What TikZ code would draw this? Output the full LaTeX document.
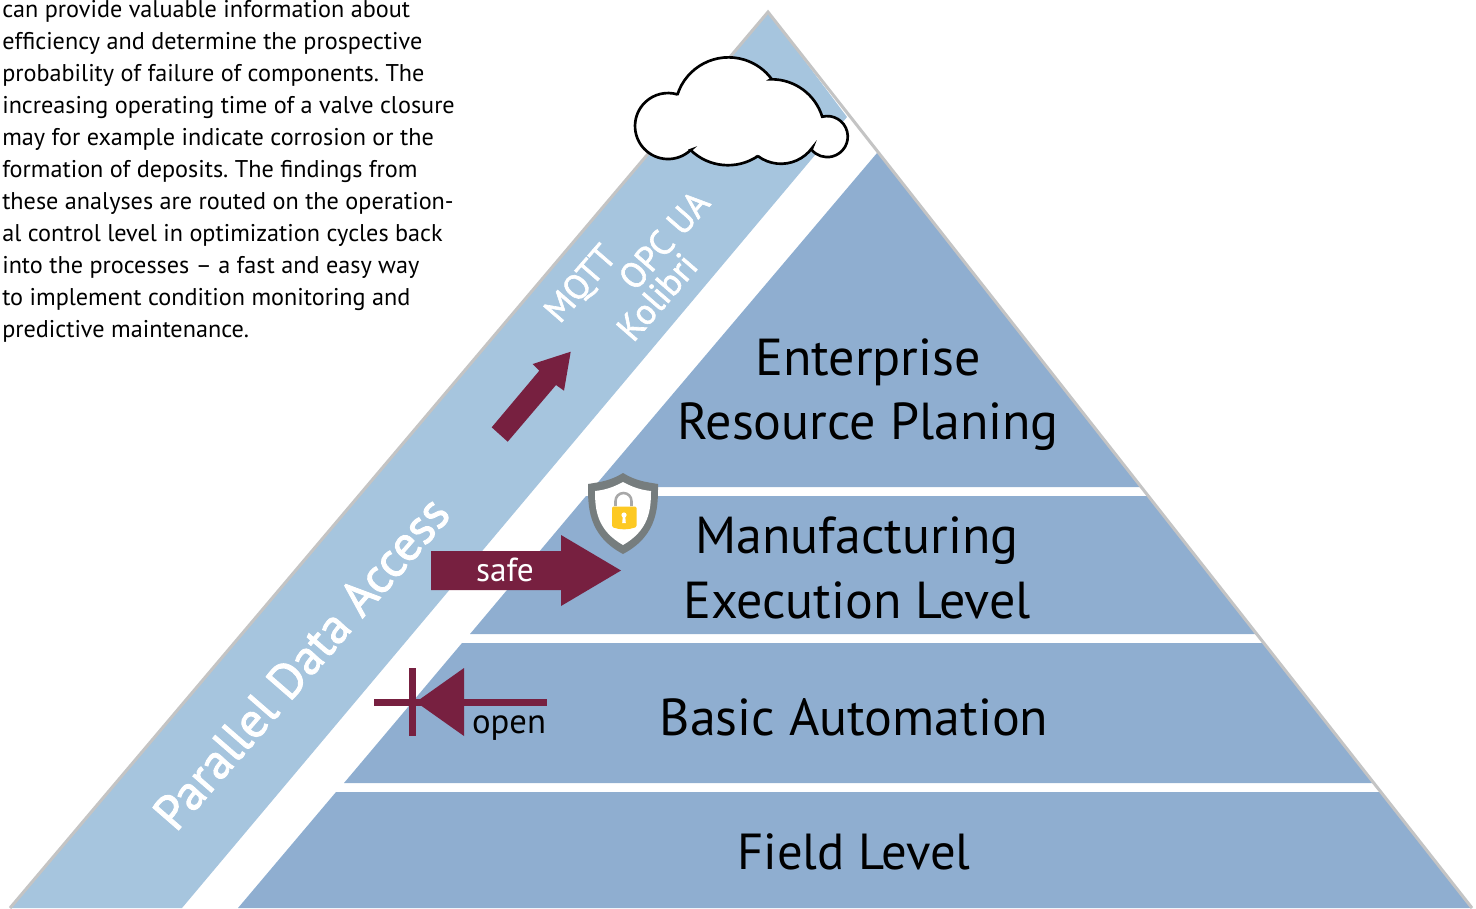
\documentclass[tikz,border=0pt]{standalone}
\usepackage{fontspec}
\setmainfont{PT Sans}
\newfontfamily\bandfont[FakeBold=1.8]{PT Sans}
\definecolor{bandblue}{HTML}{A6C5DE}
\definecolor{levelblue}{HTML}{8FAED0}
\definecolor{maroon}{HTML}{772040}
\definecolor{edgegray}{HTML}{C4C4C4}
\definecolor{shieldgray}{HTML}{767D7E}
\definecolor{lockyellow}{HTML}{FDC923}
\definecolor{shacklegray}{HTML}{A8A8A8}
\tikzset{
  level/.style={fill=levelblue,draw=none},
  leveltext/.style={font=\fontsize{39}{48.5}\selectfont,text=black,align=center,inner sep=0pt},
  bandtext/.style={text=white,inner sep=0pt},
  arrowshape/.style={fill=maroon,draw=none},
}
\begin{document}
\frenchspacing
\begin{tikzpicture}[x=0.75pt,y=-0.75pt]
\useasboundingbox (0,0) rectangle (1476,908);
% band
\fill[bandblue] (768,12) -- (847,117) -- (182,908) -- (10,908) -- cycle;
% levels
\path[level] (877,153) -- (879,153) -- (1141,487) -- (594,487) -- cycle;
\path[level] (586,496) -- (1148,496) -- (1256,634) -- (470,634) -- cycle;
\path[level] (462,643) -- (1263,643) -- (1373,783) -- (344,783) -- cycle;
\path[level] (336,792) -- (1380,792) -- (1472,908) -- (238,908) -- cycle;
% edges
\draw[edgegray,line width=2.25pt,line join=miter] (10,908) -- (768,12) -- (1472,908);
% cloud
\draw[black,line width=2pt,fill=white,line join=miter]
  (677.3,95) arc[start angle=197.4,end angle=323.3,radius=53.7]
  -- (771,79.3) arc[start angle=269.4,end angle=342.9,radius=53]
  -- (822.3,116.7) arc[start angle=256,end angle=500.3,radius=20.5]
  -- (812.3,147.7) arc[start angle=35.7,end angle=126.8,radius=38.6]
  -- (758,156) arc[start angle=55.9,end angle=134.2,radius=53.6]
  -- (690.7,150) arc[start angle=46.6,end angle=286.7,radius=33]
  -- cycle;
% body text
\node[anchor=north west,inner sep=0pt,align=left,font=\fontsize{18.15}{24}\selectfont] (body) at (2,0) {can provide valuable information about\\efficiency and determine the prospective\\probability of failure of components. The\\increasing operating time of a valve closure\\may for example indicate corrosion or the\\formation of deposits. The findings from\\these analyses are routed on the operation-\\al control level in optimization cycles back\\into the processes -- a fast and easy way\\to implement condition monitoring and\\predictive maintenance.};
% level text
\node[leveltext] (erp) at (868,394.5) {Enterprise\\Resource Planing};
\node[leveltext] (mes) at (857,568) {Manufacturing\\Execution Level};
\node[leveltext] (ba) at (854,717) {Basic Automation};
\node[leveltext,font=\fontsize{38}{46}\selectfont] (fl) at (854,852) {Field Level};
% band text
\node[bandtext,font=\bandfont\fontsize{37}{44}\selectfont,rotate=49] (pda) at (301,663) {Parallel Data Access};
\node[bandtext,font=\bandfont\fontsize{26}{32}\selectfont,rotate=49] (mqtt) at (582,285) {MQTT};
\node[bandtext,font=\bandfont\fontsize{26.5}{32}\selectfont,rotate=49] (opc) at (664,240) {OPC UA};
\node[bandtext,font=\bandfont\fontsize{27}{32}\selectfont,rotate=49] (kol) at (657,297) {Kolibri};
% up arrow
\path[arrowshape] (491.7,427.3) -- (539.3,370.7) -- (532.7,364) -- (570.7,351.7) -- (564,390.7) -- (556,385) -- (507.7,441.7) -- cycle;
% safe arrow
\path[arrowshape] (431,551) -- (561,551) -- (561,535) -- (621,570.5) -- (561,606) -- (561,590) -- (431,590) -- cycle;
\node[text=white,inner sep=0pt,font=\fontsize{25}{28}\selectfont,anchor=base] (safe) at (505,581) {safe};
% open symbol
\path[arrowshape] (374,699) rectangle (547,706);
\path[arrowshape] (409,668) rectangle (416,736);
\path[arrowshape] (416,702) -- (464,668) -- (464,736) -- cycle;
\node[inner sep=0pt,font=\fontsize{26}{30}\selectfont,anchor=base] (open) at (509,733.5) {open};
% shield
\fill[shieldgray] (623,473) .. controls (610,481) and (600,482) .. (588,484)
  .. controls (588,505) and (587,535) .. (623,554)
  .. controls (659,535) and (658,505) .. (658,484)
  .. controls (646,482) and (636,481) .. (623,473) -- cycle;
\fill[white] (623,482) .. controls (612,488) and (604,490) .. (595,491)
  .. controls (595,510) and (597,530) .. (623,545)
  .. controls (649,530) and (651,510) .. (651,491)
  .. controls (642,490) and (634,488) .. (623,482) -- cycle;
\draw[shacklegray,line width=1.9pt] (615.5,506) -- (615.5,501) arc[start angle=180,end angle=360,radius=8] -- (631.5,506);
\fill[lockyellow,rounded corners=1pt] (612,506.5) -- (636.5,506.5) -- (636.5,527) .. controls (628,530) and (620,530) .. (612,527) -- cycle;
\fill[white] (624,515) circle[radius=2.6];
\fill[white] (622.8,516) -- (625.2,516) -- (625.8,523) -- (622.2,523) -- cycle;
\end{tikzpicture}
\end{document}
